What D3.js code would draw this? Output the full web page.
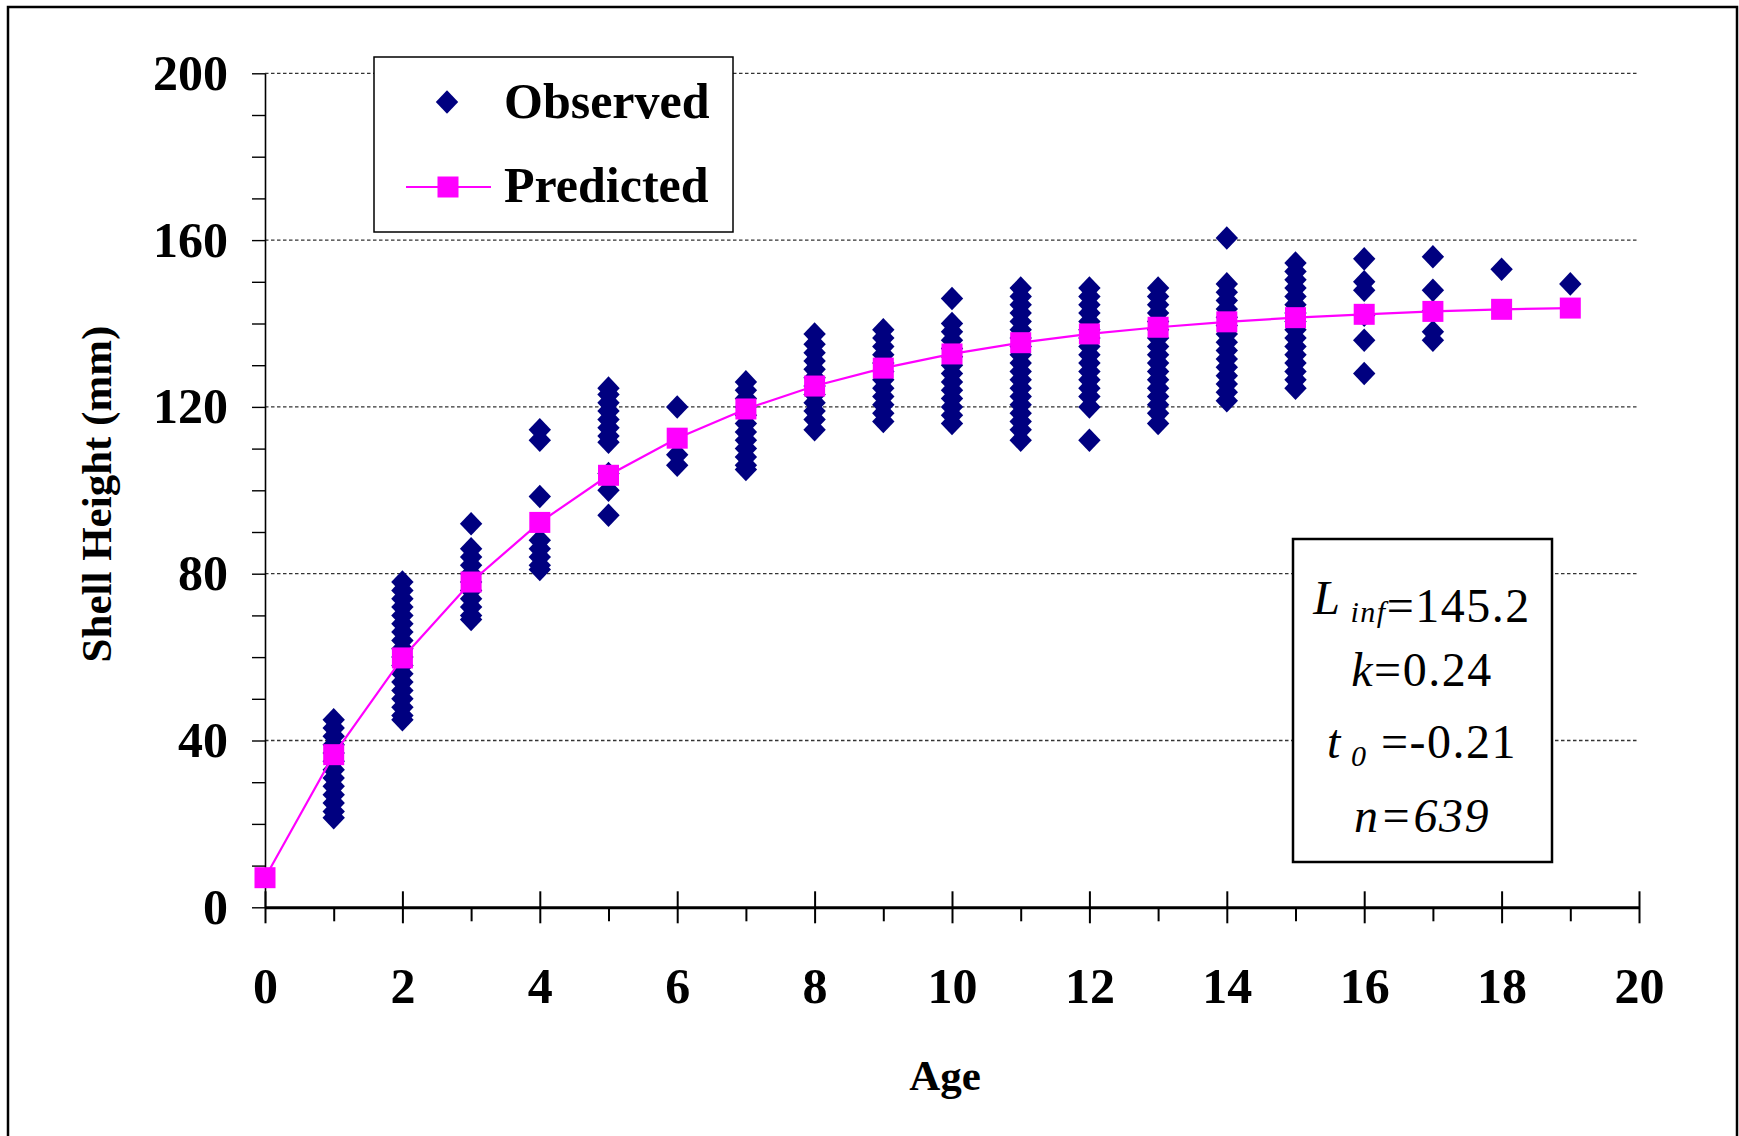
<!DOCTYPE html>
<html>
<head>
<meta charset="utf-8">
<script src="https://cdn.jsdelivr.net/npm/d3@7"></script>
<style>
  body { margin: 0; background: #fff; }
  text { font-family: "Liberation Serif", "Times New Roman", serif; }
</style>
</head>
<body>
<svg id="chart" width="1739" height="1136"></svg>
<script>
// data
const predAges = [0, 1, 2, 3, 4, 5, 6, 7, 8, 9, 10, 11, 12, 13, 14, 15, 16, 17, 18, 19]
const predHeights = [7.1, 36.6, 59.8, 78.0, 92.3, 103.6, 112.5, 119.5, 125.0, 129.3, 132.7, 135.4, 137.5, 139.1, 140.4, 141.4, 142.2, 142.9, 143.4, 143.7]

const obsAges = [1, 2, 3, 4, 5, 6, 7, 8, 9, 10, 11, 12, 13, 14, 15, 16, 17, 18, 19]
const obsHeights = [
  [45, 43, 41, 39, 37, 35, 33, 31, 29, 27, 25, 23, 21.5],
  [78, 76, 74, 72, 70, 68, 66, 64, 62, 60, 58, 56, 54, 52, 50, 48, 46, 45],
  [92, 86, 84, 82, 80, 78, 76, 74, 72, 70, 69],
  [114.5, 112, 98.5, 88, 86, 84, 82, 81],
  [124.5, 123, 121, 119, 117, 115, 113, 111.5, 104, 100, 94],
  [120, 108.5, 106],
  [126, 124, 122, 120, 118, 116, 114, 112, 110, 108, 106, 105],
  [137.5, 135, 133, 131, 129, 127, 125, 123, 121, 119, 117, 114.5],
  [138.5, 136.5, 134.5, 132.5, 130.5, 128.5, 126.5, 124.5, 122.5, 120.5, 118.5, 116.5],
  [146, 140, 138, 136, 134, 132, 130, 128, 126, 124, 122, 120, 118, 116],
  [148.5, 146.5, 144.5, 142.5, 140.5, 138.5, 136.5, 134.5, 132.5, 130.5, 128.5, 126.5, 124.5, 122.5, 120.5, 118.5, 116.5, 114.5, 112],
  [148.5, 146.5, 144.5, 142.5, 140.5, 138.5, 136.5, 134.5, 132.5, 130.5, 128.5, 126.5, 124.5, 122.5, 120, 112],
  [148.5, 146.5, 144.5, 142.5, 140.5, 138.5, 136.5, 134.5, 132.5, 130.5, 128.5, 126.5, 124.5, 122.5, 120.5, 118.5, 116],
  [160.5, 149.5, 147.5, 145.5, 143.5, 141.5, 139.5, 137.5, 135.5, 133.5, 131.5, 129.5, 127.5, 125.5, 123.5, 121.5],
  [154.5, 152.5, 150.5, 148.5, 146.5, 144.5, 142.5, 140.5, 138.5, 136.5, 134.5, 132.5, 130.5, 128.5, 126.5, 124.5],
  [155.5, 150, 148, 142, 136, 128],
  [156, 148, 143, 138, 136],
  [153],
  [149.5]
]

const yMajorTicks = [0, 40, 80, 120, 160, 200]
const yMinorTicks = [10, 20, 30, 50, 60, 70, 90, 100, 110, 130, 140, 150, 170, 180, 190]
const xMajorTicks = [0, 2, 4, 6, 8, 10, 12, 14, 16, 18, 20]
const xMinorTicks = [1, 3, 5, 7, 9, 11, 13, 15, 17, 19]

const statLines = [
  { it: "L", sub: "inf", rest: "=145.2", restItalic: false },
  { it: "k", sub: "", rest: "=0.24", restItalic: false },
  { it: "t", sub: "0", rest: "=-0.21", restItalic: false },
  { it: "n=639", sub: "", rest: "", restItalic: true }
]

const svg = d3.select("#chart")

//scales
const x = d3.scaleLinear().domain([0, 20]).range([265, 1639])
const y = d3.scaleLinear().domain([0, 200]).range([907.3, 73.3])

// outer frame
svg.append("rect")
  .attr("x", 8).attr("y", 7)
  .attr("width", 1729).attr("height", 1140)
  .attr("fill", "none").attr("stroke", "#000").attr("stroke-width", 2.5)

// grid
svg.append("g")
  .selectAll("line")
  .data(yMajorTicks.filter((d) => d > 0))
  .join("line")
  .attr("x1", x(0)).attr("x2", x(20))
  .attr("y1", (d) => y(d)).attr("y2", (d) => y(d))
  .attr("stroke", "#333").attr("stroke-width", 1.3)
  .attr("stroke-dasharray", "3.5,2.5")

// y axis
const yAxis = svg.append("g")
  .attr("transform", `translate(${x(0)},0)`)
  .call(d3.axisLeft(y).tickValues(yMajorTicks).tickSize(13).tickSizeOuter(0).tickPadding(24).tickFormat(d3.format("d")))
yAxis.select(".domain").attr("stroke-width", 1.6)
yAxis.selectAll(".tick line").attr("stroke-width", 1.4)
yAxis.selectAll("text")
  .attr("font-size", 50).attr("font-weight", "bold")
  .attr("font-family", "Liberation Serif").attr("fill", "#000")

const yMinor = svg.append("g")
  .attr("transform", `translate(${x(0)},0)`)
  .call(d3.axisLeft(y).tickValues(yMinorTicks).tickSize(13).tickSizeOuter(0).tickFormat(""))
yMinor.select(".domain").remove()
yMinor.selectAll(".tick line").attr("stroke-width", 1.4)

// x axis
const xAxis = svg.append("g")
  .attr("transform", `translate(0,${y(0)})`)
  .call(d3.axisBottom(x).tickValues(xMajorTicks).tickSize(16).tickSizeOuter(0).tickPadding(44))
xAxis.select(".domain").attr("stroke-width", 3)
xAxis.selectAll(".tick line").attr("y1", -16).attr("stroke-width", 2)
xAxis.selectAll("text")
  .attr("font-size", 50).attr("font-weight", "bold")
  .attr("font-family", "Liberation Serif").attr("fill", "#000")

const xMinor = svg.append("g")
  .attr("transform", `translate(0,${y(0)})`)
  .call(d3.axisBottom(x).tickValues(xMinorTicks).tickSize(14).tickSizeOuter(0).tickFormat(""))
xMinor.select(".domain").remove()
xMinor.selectAll(".tick line").attr("stroke-width", 2)

// axis titles
svg.append("text")
  .attr("x", 945).attr("y", 1090)
  .attr("text-anchor", "middle")
  .attr("font-size", 43).attr("font-weight", "bold")
  .text("Age")

svg.append("text")
  .attr("transform", "translate(111,494) rotate(-90)")
  .attr("text-anchor", "middle")
  .attr("font-size", 43).attr("font-weight", "bold")
  .text("Shell Height (mm)")

// observed
const diamond = d3.symbol().type(d3.symbolDiamond2).size(320)
const obsPoints = obsAges.flatMap((a, i) => obsHeights[i].map((h) => ({ age: a, h })))

svg.append("g")
  .selectAll("path")
  .data(obsPoints)
  .join("path")
  .attr("d", diamond)
  .attr("transform", (d) => `translate(${x(d.age)},${y(d.h)}) scale(1,1.05)`)
  .attr("fill", "#000080")

// predicted
const predData = predAges.map((a, i) => ({ age: a, h: predHeights[i] }))
svg.append("path")
  .datum(predData)
  .attr("d", d3.line().x((d) => x(d.age)).y((d) => y(d.h)))
  .attr("fill", "none").attr("stroke", "#ff00ff").attr("stroke-width", 2.2)

svg.append("g")
  .selectAll("rect")
  .data(predData)
  .join("rect")
  .attr("x", (d) => x(d.age) - 10.5).attr("y", (d) => y(d.h) - 10.5)
  .attr("width", 21).attr("height", 21)
  .attr("fill", "#ff00ff")

// legend
const legend = svg.append("g")
legend.append("rect")
  .attr("x", 374).attr("y", 57).attr("width", 359).attr("height", 175)
  .attr("fill", "#fff").attr("stroke", "#000").attr("stroke-width", 1.5)
legend.append("path")
  .attr("d", diamond)
  .attr("transform", "translate(447,102) scale(1,1.05)")
  .attr("fill", "#000080")
legend.append("text")
  .attr("x", 504).attr("y", 118)
  .attr("font-size", 50).attr("font-weight", "bold")
  .text("Observed")
legend.append("line")
  .attr("x1", 406).attr("x2", 491).attr("y1", 187).attr("y2", 187)
  .attr("stroke", "#ff00ff").attr("stroke-width", 2.2)
legend.append("rect")
  .attr("x", 437.5).attr("y", 176.5).attr("width", 21).attr("height", 21)
  .attr("fill", "#ff00ff")
legend.append("text")
  .attr("x", 504).attr("y", 202)
  .attr("font-size", 50).attr("font-weight", "bold")
  .text("Predicted")

// parameter box
const stats = svg.append("g")
stats.append("rect")
  .attr("x", 1293).attr("y", 539).attr("width", 259).attr("height", 323)
  .attr("fill", "#fff").attr("stroke", "#000").attr("stroke-width", 2.5)

const baselines = [614, 686, 758, 832]
statLines.forEach((l, i) => {
  const t = stats.append("text")
    .attr("x", 1422).attr("y", baselines[i])
    .attr("text-anchor", "middle")
    .attr("font-size", 48)
    .attr("letter-spacing", 1.5)
  t.append("tspan").attr("font-style", "italic").text(l.it)
  if (l.sub) {
    t.append("tspan").attr("font-size", 30).attr("font-style", "italic").attr("dy", 8).text("\u00a0" + l.sub)
    t.append("tspan").attr("dy", -8).text(l.sub === "0" ? "\u00a0" : "")
  }
  if (l.rest) t.append("tspan").attr("font-style", l.restItalic ? "italic" : "normal").text(l.rest)
})
</script>
</body>
</html>
